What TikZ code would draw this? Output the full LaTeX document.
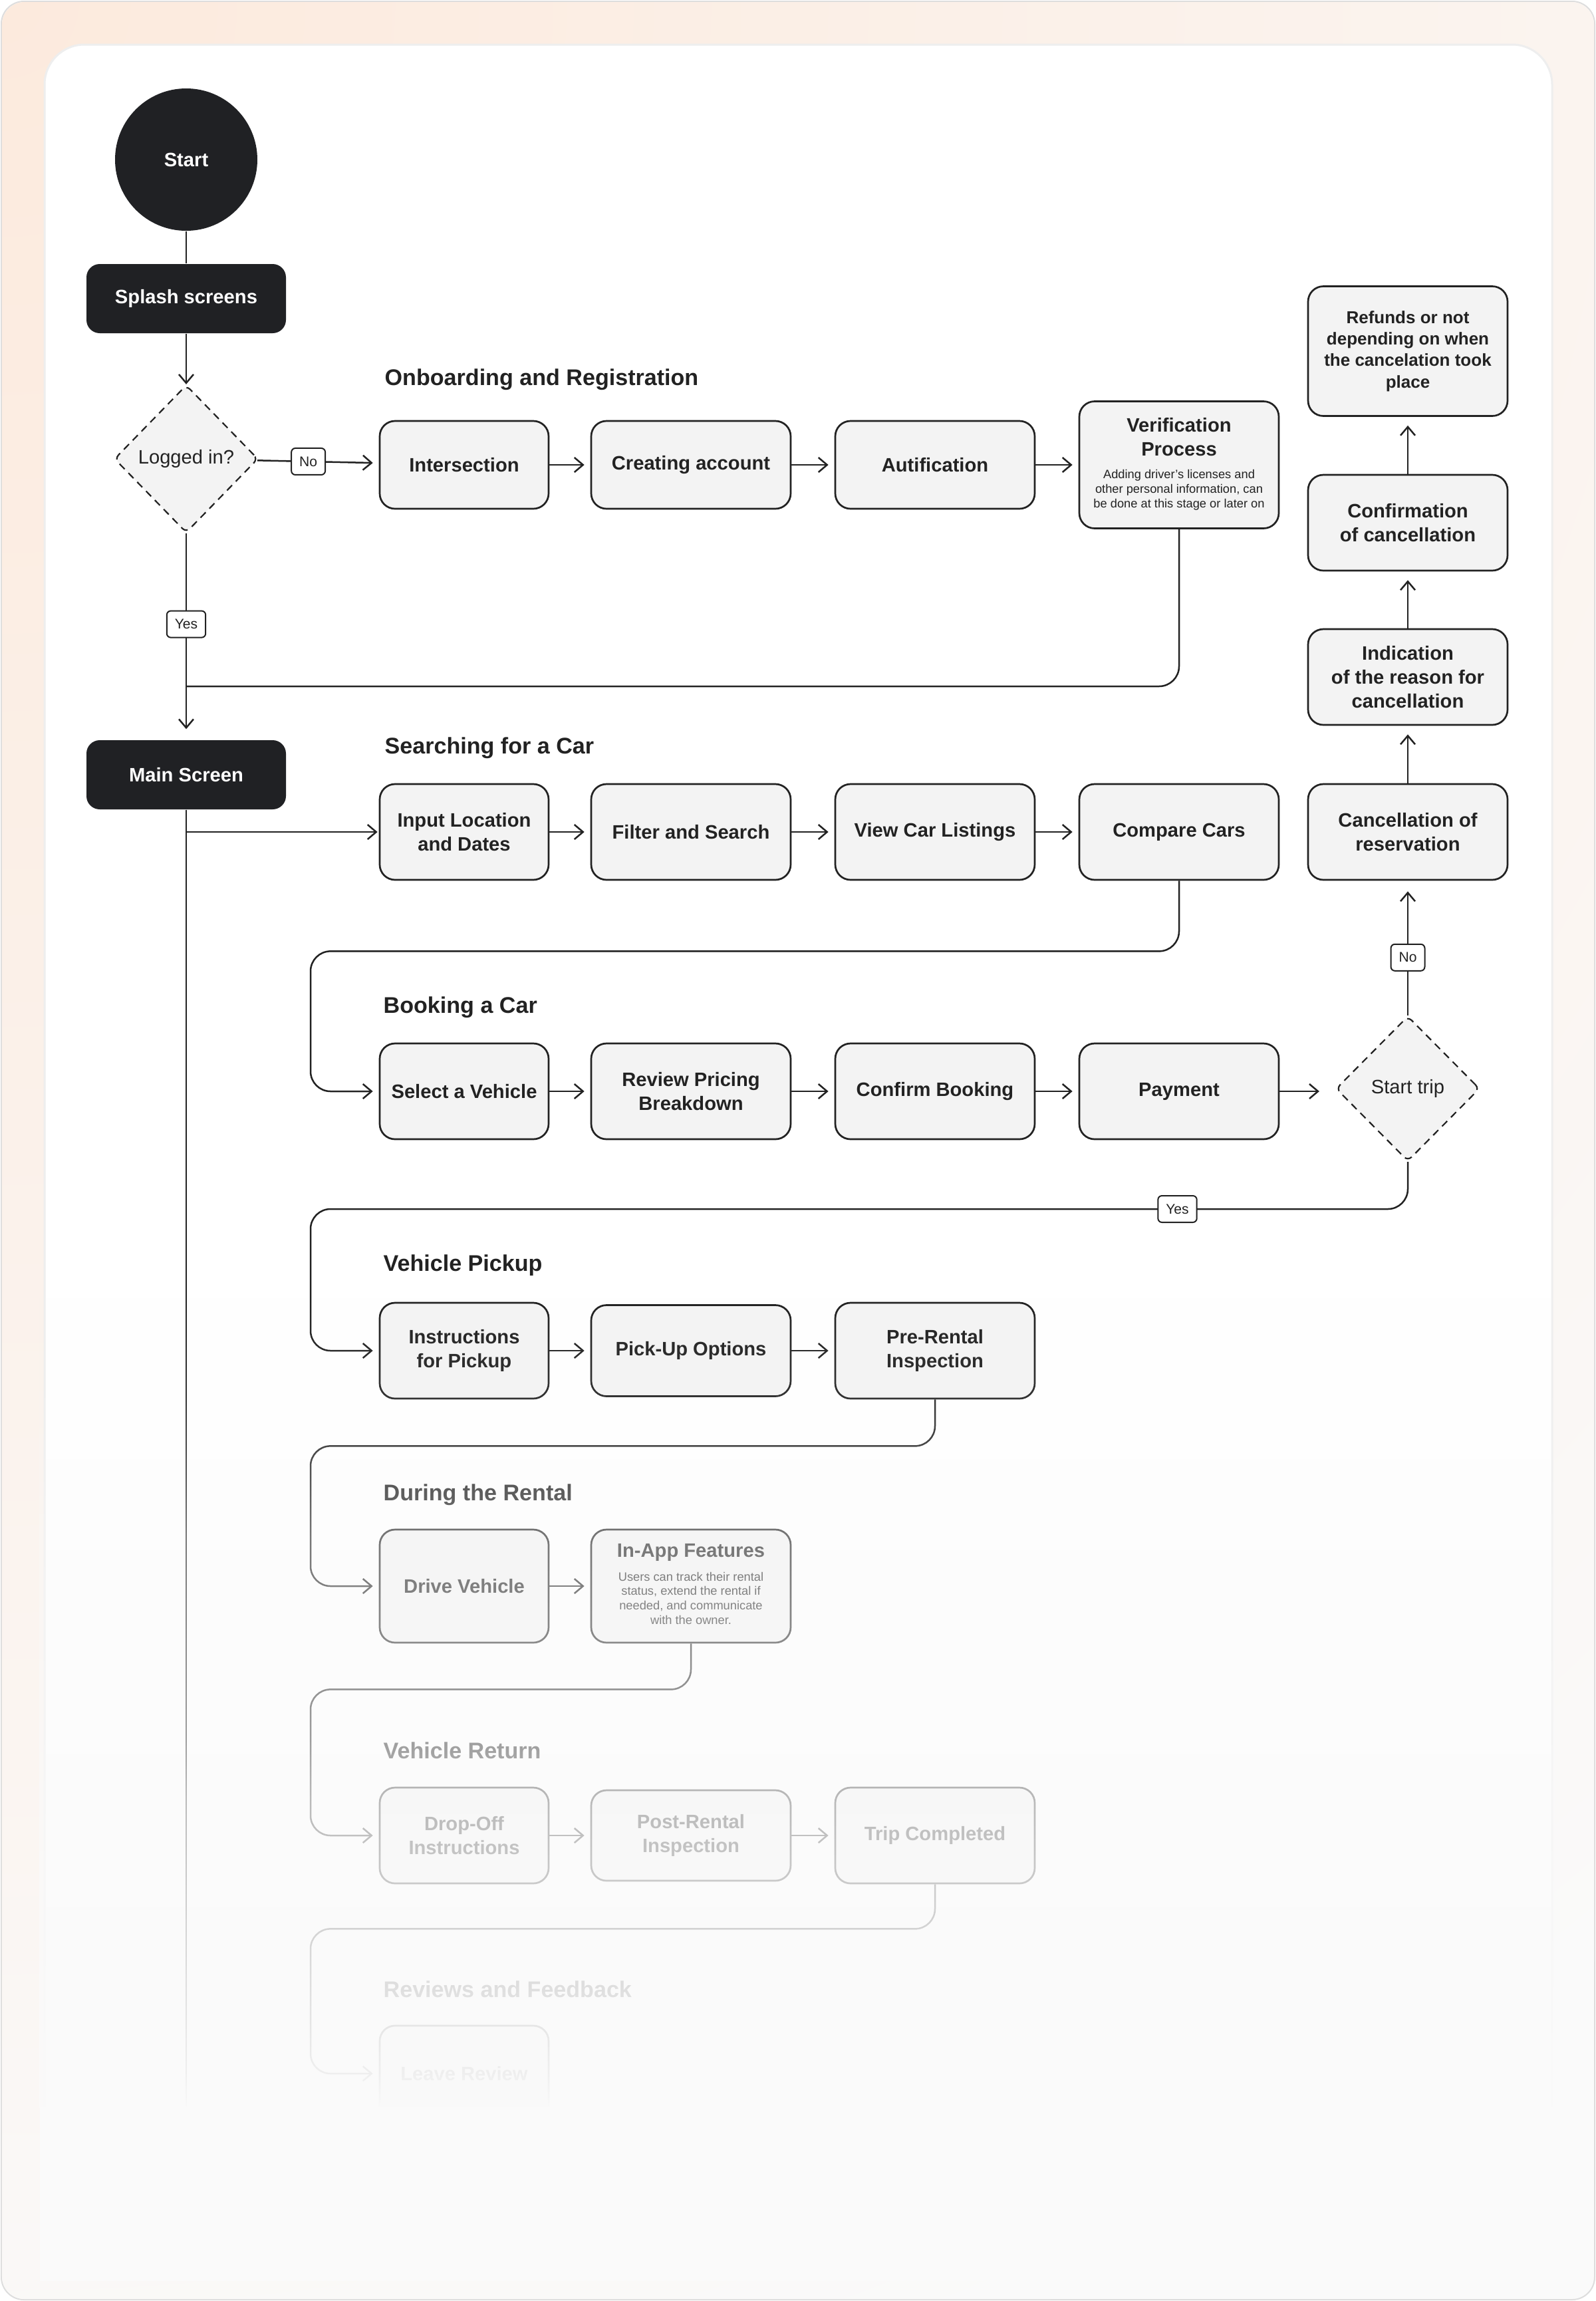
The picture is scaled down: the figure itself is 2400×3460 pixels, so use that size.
\documentclass[tikz,border=0pt]{standalone}
\usepackage{fontspec}
\setmainfont{Liberation Sans}
\usepackage{tikz}
\usetikzlibrary{arrows.meta, shapes.geometric, fadings, calc}

\definecolor{ink}{HTML}{222222}
\definecolor{boxfill}{HTML}{F3F3F3}
\definecolor{darkfill}{HTML}{202124}
\definecolor{bgcol}{HTML}{FAFAFA}
\definecolor{framecol}{HTML}{DDDDDD}
\definecolor{cardline}{HTML}{EEEEEE}
\definecolor{peach}{HTML}{FCEADD}

\newcommand{\boxtxt}{\fontsize{8.3}{10.2}\selectfont\bfseries}
\newcommand{\headtxt}{\fontsize{9.7}{11.6}\selectfont\bfseries}
\newcommand{\notetxt}{\fontsize{5.2}{6.2}\selectfont\mdseries}
\newcommand{\smalltxt}{\fontsize{7.4}{9.2}\selectfont\bfseries}
\newcommand{\tagtxt}{\fontsize{6}{7}\selectfont}
\newcommand{\asktxt}{\fontsize{8.3}{10}\selectfont}
\newcommand{\notelines}[1]{{\notetxt\begin{tabular}{@{}c@{}}#1\end{tabular}}}

% lower part of the card fades out (the path sees 25bp..75bp)
\pgfdeclareverticalshading{fadeshade}{100bp}{color(0bp)=(white); color(25bp)=(white); color(27.25bp)=(black!5); color(33bp)=(black!13); color(44.25bp)=(black!30); color(47.75bp)=(black!43); color(60.25bp)=(black!61); color(63.75bp)=(black!76); color(68.85bp)=(black!92); color(75bp)=(black); color(100bp)=(black)}
\pgfdeclarefading{fadedown}{\pgfuseshading{fadeshade}}

\tikzset{
  stepbox/.style={draw=ink, line width=0.27mm, fill=boxfill, rounded corners=2.3mm, minimum width=30mm, minimum height=14.4mm, inner sep=1mm, align=center, font=\boxtxt, text=ink},
  narrow/.style={minimum width=25.4mm},
  darkbox/.style={fill=darkfill, rounded corners=2mm, minimum width=30mm, minimum height=10.4mm, text=white, font=\boxtxt},
  startnode/.style={circle, fill=darkfill, minimum size=21.4mm, inner sep=0pt, text=white, font=\boxtxt},
  decision/.style={diamond, draw=ink, line width=0.22mm, dash pattern=on 1.1mm off 0.8mm, fill=boxfill, minimum width=21.6mm, minimum height=22.2mm, inner sep=0pt, rounded corners=0.8mm, font=\asktxt, text=ink},
  tag/.style={draw=ink, solid, fill=white, line width=0.2mm, rounded corners=0.6mm, minimum height=4mm, inner xsep=1.2mm, inner ysep=0.4mm, font=\tagtxt, text=ink},
  heading/.style={anchor=west, inner sep=0pt, font=\headtxt, text=ink},
  flow/.style={draw=ink, line width=0.25mm, -{Straight Barb[length=1.3mm, width=2.2mm]}, shorten >=0.9mm},
  link/.style={draw=ink, line width=0.25mm}
}

\begin{document}
\begin{tikzpicture}[x=0.1mm, y=-0.1mm]
\useasboundingbox (0,0) rectangle (2400,3460);

% frame and card
\draw[framecol, line width=0.2mm, fill=bgcol, rounded corners=3.4mm] (2,2) rectangle (2398,3458);
\begin{scope}
  \clip[rounded corners=3.4mm] (3,3) rectangle (2397,3457);
  \shade[inner color=peach, outer color=bgcol] (0,0) circle (3800);
\end{scope}
\draw[cardline, line width=0.3mm, fill=white, rounded corners=6mm] (67,67) rectangle (2334,3320);

% left column
\node[startnode] (start) at (280,240) {Start};
\node[darkbox] (splash) at (280,449) {Splash screens};
\node[decision] (logged) at (280,690) {Logged in?};
\node[darkbox] (main) at (280,1165) {Main Screen};

% section titles
\node[heading] (hOnboard) at (578,571) {Onboarding and Registration};
\node[heading] (hSearch) at (578,1125) {Searching for a Car};
\node[heading] (hBooking) at (576,1515) {Booking a Car};
\node[heading] (hPickup) at (576,1903) {Vehicle Pickup};
\node[heading] (hRental) at (576,2248) {During the Rental};
\node[heading] (hReturn) at (576,2632) {Vehicle Return};
\node[heading] (hReviews) at (576,2991) {Reviews and Feedback};

% onboarding
\node[stepbox, narrow, minimum height=13.2mm] (intersect) at (698,699) {Intersection};
\node[stepbox, minimum height=13.2mm] (account) at (1039,699) {Creating account};
\node[stepbox, minimum height=13.2mm] (autif) at (1406,699) {Autification};
\node[stepbox, minimum height=19.1mm] (verif) at (1773,699) {Verification\\Process\\[1.5mm]\notelines{Adding driver's licenses and\\other personal information, can\\be done at this stage or later on}};

% cancellation column
\node[stepbox, minimum height=19.5mm, font=\smalltxt] (refunds) at (2117,528) {Refunds or not\\depending on when\\the cancelation took\\place};
\node[stepbox] (confirmcancel) at (2117,786) {Confirmation\\of cancellation};
\node[stepbox] (reason) at (2117,1018) {Indication\\of the reason for\\cancellation};
\node[stepbox] (cancel) at (2117,1251) {Cancellation of\\reservation};

% searching
\node[stepbox, narrow] (input) at (698,1251) {Input Location\\and Dates};
\node[stepbox] (filter) at (1039,1251) {Filter and Search};
\node[stepbox] (listings) at (1406,1251) {View Car Listings};
\node[stepbox] (compare) at (1773,1251) {Compare Cars};

% booking
\node[stepbox, narrow] (select) at (698,1641) {Select a Vehicle};
\node[stepbox] (pricing) at (1039,1641) {Review Pricing\\Breakdown};
\node[stepbox] (booking) at (1406,1641) {Confirm Booking};
\node[stepbox] (payment) at (1773,1641) {Payment};
\node[decision, minimum height=21.8mm] (trip) at (2117,1637) {Start trip};

% pickup
\node[stepbox, narrow] (instr) at (698,2031) {Instructions\\for Pickup};
\node[stepbox, minimum height=13.7mm] (pickup) at (1039,2031) {Pick-Up Options};
\node[stepbox] (prerental) at (1406,2031) {Pre-Rental\\Inspection};

% rental
\node[stepbox, narrow, minimum height=17mm] (drive) at (698,2385) {Drive Vehicle};
\node[stepbox, minimum height=17mm] (inapp) at (1039,2385) {In-App Features\\[1.1mm]\notelines{Users can track their rental\\status, extend the rental if\\needed, and communicate\\with the owner.}};

% return
\node[stepbox, narrow] (dropoff) at (698,2760) {Drop-Off\\Instructions};
\node[stepbox, minimum height=13.6mm] (postrental) at (1039,2760) {Post-Rental\\Inspection};
\node[stepbox] (tripdone) at (1406,2760) {Trip Completed};

% reviews
\node[stepbox, narrow] (review) at (698,3118) {Leave Review};

\coordinate (laneX) at (467,0); % return lane
\coordinate (joinA) at (280,1032);
\coordinate (turnB) at (467,1818);
\coordinate (spineEnd) at (280,3190);

% connectors
\draw[link] (start) -- (splash);
\draw[flow, shorten >=0pt] (splash) -- (logged);
\draw[flow] (logged) -- node[tag, pos=0.42] (tagNoA) {No} (intersect);
\draw[flow, shorten >=1.6mm] (logged) -- node[tag, pos=0.44] (tagYesA) {Yes} (main);
\foreach \a/\b in {intersect/account, account/autif, autif/verif}
  \draw[flow] (\a) -- (\b);
\draw[link, rounded corners=3mm] (verif.south) |- (joinA);

\draw[link] (main) -- (spineEnd);
\draw[flow, shorten >=0.2mm] (main.south |- input.west) -- (input.west);
\foreach \a/\b in {input/filter, filter/listings, listings/compare}
  \draw[flow] (\a) -- (\b);
\draw[flow, rounded corners=3mm] (compare.south) -- ++(0,106) -| (select.west -| laneX) -- (select.west);

\foreach \a/\b in {select/pricing, pricing/booking, booking/payment}
  \draw[flow] (\a) -- (\b);
\draw[flow, shorten >=2.4mm] (payment) -- (payment -| trip.west);
\draw[flow, shorten >=1.6mm] (trip) -- node[tag, pos=0.43] (tagNoB) {No} (cancel);
\foreach \a/\b in {cancel/reason, reason/confirmcancel, confirmcancel/refunds}
  \draw[flow, shorten >=1.3mm] (\a) -- (\b);
\draw[flow, rounded corners=3mm] (trip.south) |- node[tag, pos=0.605] (tagYesB) {Yes} (turnB) -- (instr.west -| laneX) -- (instr.west);

\foreach \a/\b in {instr/pickup, pickup/prerental}
  \draw[flow] (\a) -- (\b);
\draw[flow, rounded corners=3mm] (prerental.south) -- ++(0,70) -| (drive.west -| laneX) -- (drive.west);
\draw[flow] (drive) -- (inapp);
\draw[flow, rounded corners=3mm] (inapp.south) -- ++(0,69) -| (dropoff.west -| laneX) -- (dropoff.west);
\foreach \a/\b in {dropoff/postrental, postrental/tripdone}
  \draw[flow] (\a) -- (\b);
\draw[flow, rounded corners=3mm] (tripdone.south) -- ++(0,67) -| (review.west -| laneX) -- (review.west);

% fade out
\fill[bgcol, path fading=fadedown] (60,1950) rectangle (2340,3170);
\fill[bgcol] (60,3168) rectangle (2340,3430);
\end{tikzpicture}
\end{document}
